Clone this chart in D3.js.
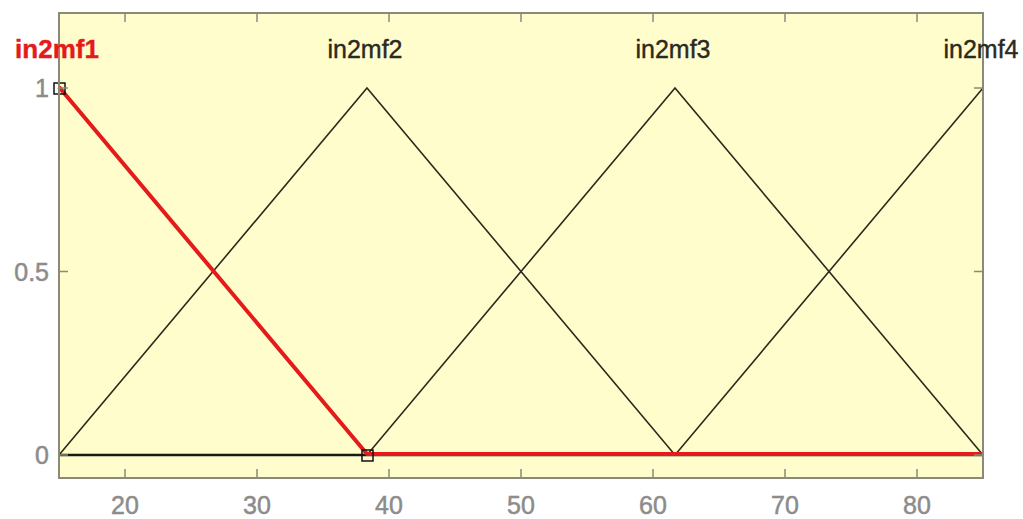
<!DOCTYPE html>
<html><head><meta charset="utf-8">
<script src="https://cdn.jsdelivr.net/npm/d3@7"></script>
<style>
html,body{margin:0;padding:0;background:#fff;}
svg{display:block;}
text{font-family:"Liberation Sans",Arial,sans-serif;}
</style></head>
<body>
<svg id="chart" width="1023" height="519"></svg>
<script>
// ---- data ----
const mfNames = ["in2mf1","in2mf2","in2mf3","in2mf4"];
const mfA = [-8.333, 15, 38.333, 61.667];
const mfB = [15, 38.333, 61.667, 85];
const mfC = [38.333, 61.667, 85, 108.333];
const selectedMf = 0;
const xTicks = [20,30,40,50,60,70,80];
const yTicks = [0,0.5,1];
const xLimits = [15,85];
const yLimits = [-0.0627,1.2044];

// ---- layout ----
const W=1023,H=519;
const box={left:59,right:983,top:13,bottom:478};
const svg=d3.select("#chart");
const x=d3.scaleLinear().domain(xLimits).range([box.left,box.right]);
const y=d3.scaleLinear().domain(yLimits).range([box.bottom,box.top]);

svg.append("rect").attr("x",box.left).attr("y",box.top)
  .attr("width",box.right-box.left).attr("height",box.bottom-box.top)
  .attr("fill","#fffdcc");

svg.append("clipPath").attr("id","clip").append("rect")
  .attr("x",box.left-2).attr("y",box.top).attr("width",box.right-box.left+4).attr("height",box.bottom-box.top);

function tri(v,a,b,c){
  if(v<=a||v>=c) return 0;
  return v<=b?(v-a)/(b-a):(c-v)/(c-b);
}
function mfPoints(i){
  const xs=[xLimits[0],mfA[i],mfB[i],mfC[i],xLimits[1]]
    .filter(v=>v>=xLimits[0]&&v<=xLimits[1]).sort((p,q)=>p-q);
  return xs.map(v=>[v,tri(v,mfA[i],mfB[i],mfC[i])]);
}
const line=d3.line().x(d=>x(d[0])).y(d=>y(d[1]));
const g=svg.append("g").attr("clip-path","url(#clip)");

mfNames.forEach((n,i)=>{
  if(i===selectedMf) return;
  g.append("path").attr("d",line(mfPoints(i))).attr("fill","none")
   .attr("stroke","#2a2a1a").attr("stroke-width",1.6);
});
// zero baseline emphasised
g.append("line").attr("x1",x(xLimits[0])).attr("x2",x(xLimits[1]))
  .attr("y1",y(0)).attr("y2",y(0)).attr("stroke","#1a1a10").attr("stroke-width",2.5);
// selected mf in red
g.append("path").attr("d",line(mfPoints(selectedMf))).attr("fill","none")
  .attr("stroke","#e51b1b").attr("stroke-width",4).attr("stroke-linejoin","round")
  .attr("transform","translate(0,-1)");

// selection handles
[[mfB[selectedMf],1],[mfC[selectedMf],0]].forEach(p=>{
  svg.append("rect").attr("x",x(p[0])-5).attr("y",y(p[1])-2-3).attr("width",11).attr("height",11)
    .attr("fill","none").attr("stroke","#111").attr("stroke-width",1.5);
});

// box + ticks
svg.append("rect").attr("x",box.left).attr("y",box.top)
  .attr("width",box.right-box.left).attr("height",box.bottom-box.top)
  .attr("fill","none").attr("stroke","#8a8a7a").attr("stroke-width",2);
const tk=svg.append("g").attr("stroke","#8a8a7a").attr("stroke-width",1.5);
xTicks.forEach(t=>{
  tk.append("line").attr("x1",x(t)).attr("x2",x(t)).attr("y1",box.bottom).attr("y2",box.bottom-9);
  tk.append("line").attr("x1",x(t)).attr("x2",x(t)).attr("y1",box.top).attr("y2",box.top+9);
});
yTicks.forEach(t=>{
  tk.append("line").attr("x1",box.left).attr("x2",box.left+9).attr("y1",y(t)).attr("y2",y(t));
  tk.append("line").attr("x1",box.right).attr("x2",box.right-9).attr("y1",y(t)).attr("y2",y(t));
});

svg.append("g").selectAll("text").data(xTicks).join("text")
  .attr("x",d=>x(d)).attr("y",514).attr("text-anchor","middle")
  .attr("font-size",25).attr("fill","#8c8c8c").attr("stroke","#8c8c8c").attr("stroke-width",0.5).text(d=>d);
svg.append("g").selectAll("text").data(yTicks).join("text")
  .attr("x",49).attr("y",d=>y(d)).attr("dy","0.36em").attr("text-anchor","end")
  .attr("font-size",25).attr("fill","#8c8c8c").attr("stroke","#8c8c8c").attr("stroke-width",0.5).text(d=>d);

// mf labels
svg.append("g").selectAll("text").data(mfNames).join("text")
  .attr("x",(d,i)=>x(mfB[i])-2).attr("y",58).attr("text-anchor","middle")
  .attr("font-size",(d,i)=>i===selectedMf?26:25)
  .attr("font-weight",(d,i)=>i===selectedMf?"bold":"normal")
  .attr("fill",(d,i)=>i===selectedMf?"#e51b1b":"#2a2a22")
  .attr("stroke",(d,i)=>i===selectedMf?"#e51b1b":"#2a2a22").attr("stroke-width",0.4)
  .text(d=>d);
</script>
</body></html>
